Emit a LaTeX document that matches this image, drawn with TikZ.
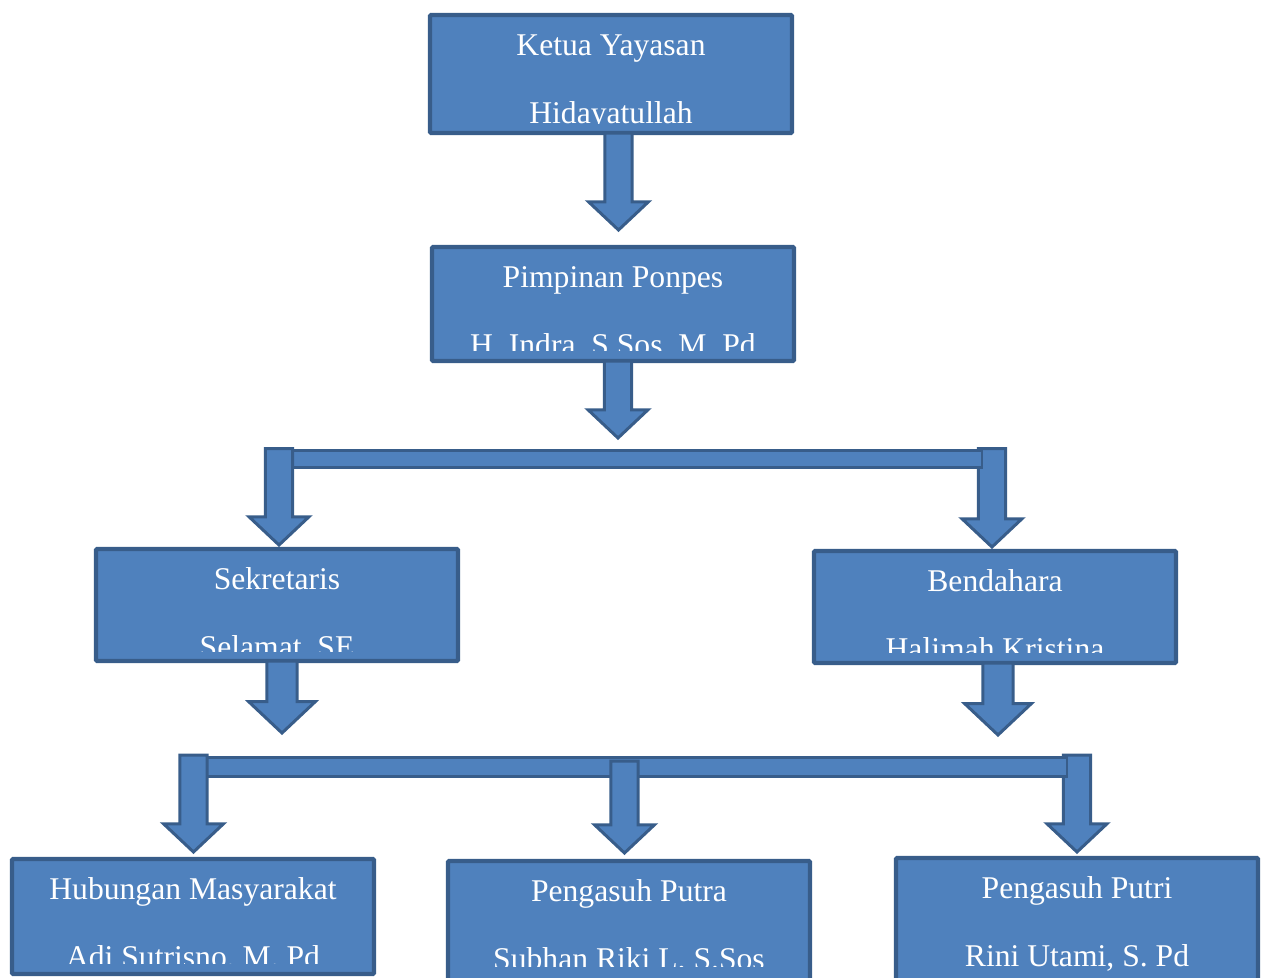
\documentclass[tikz,border=0pt]{standalone}
\usepackage{fontspec}
\setmainfont{Liberation Serif}
\usepackage{tikz}
\usetikzlibrary{calc}

\definecolor{boxfill}{HTML}{4F81BD}
\definecolor{boxline}{HTML}{385D8A}

% box with two lines of text, cut off at a given depth
\newcommand{\orgbox}[6]{%
  \node[orgbox, minimum height=#3] (#1) at #2 {};
  \begin{scope}
    \clip ($(#1.north west)+(0.05,-0.05)$) rectangle ($(#1.north east)+(-0.05,-#6)$);
    \node[boxtext] (#1-a) at ($(#1.north)+(0,-0.81)$) {#4};
    \node[boxtext] (#1-b) at ($(#1.north)+(0,-2.17)$) {#5};
  \end{scope}}

% block arrow pointing down, from #2 to the tip #3
\newcommand{\blockarr}[3][1]{%
  \draw[blockarrow] let \p1=#2, \p2=#3 in
    (\x1-#1*7.7pt,\y1) -- (\x1+#1*7.7pt,\y1) -- (\x1+#1*7.7pt,\y2+#1*16pt)
    -- (\x1+#1*17pt,\y2+#1*16pt) -- (\x1,\y2) -- (\x1-#1*17pt,\y2+#1*16pt)
    -- (\x1-#1*7.7pt,\y2+#1*16pt) -- cycle;}

\begin{document}
\begin{tikzpicture}[
  orgbox/.style={draw=boxline, fill=boxfill, line width=2.4pt, minimum width=7.24cm,
    outer sep=0pt, inner sep=0pt, rounded corners=0.6pt},
  boxtext/.style={text=white, font=\fontsize{18}{18}\selectfont, anchor=base, inner sep=0pt},
  blockarrow/.style={draw=boxline, fill=boxfill, line width=1.7pt, line join=miter}]
  \useasboundingbox (0,0) rectangle (25.3,-19.56);
  \clip (0,0) rectangle (25.3,-19.56);

  % Boxes
  \orgbox{ketua}{(12.22,-1.48)}{2.36cm}{Ketua Yayasan}{Hidayatullah}{2.16}
  \orgbox{pimpinan}{(12.26,-6.08)}{2.28cm}{Pimpinan Ponpes}{H. Indra, S.Sos, M. Pd}{2.06}
  \orgbox{sekretaris}{(5.54,-12.10)}{2.24cm}{Sekretaris}{Selamat, SE}{2.04}
  \orgbox{bendahara}{(19.90,-12.14)}{2.24cm}{Bendahara}{Halimah Kristina}{2.02}
  \orgbox{humas}{(3.86,-18.33)}{2.30cm}{Hubungan Masyarakat}{Adi Sutrisno, M. Pd}{2.08}
  \orgbox{putra}{(12.58,-18.47)}{2.50cm}{Pengasuh Putra}{Subhan Riki L, S.Sos}{2.11}
  \orgbox{putri}{(21.54,-18.41)}{2.50cm}{Pengasuh Putri}{Rini Utami, S. Pd}{2.40}

  % Tips and bar ends
  \coordinate (tipA) at (12.37,-4.60);
  \coordinate (tipB) at (12.36,-8.76);
  \coordinate (topL) at (5.58,-8.97);
  \coordinate (topR) at (19.84,-8.97);
  \coordinate (tipSek) at (5.58,-10.90);
  \coordinate (tipBen) at (19.84,-10.94);
  \coordinate (tipC) at (5.64,-14.66);
  \coordinate (tipD) at (19.96,-14.70);
  \coordinate (botL) at (3.87,-15.10);
  \coordinate (botM) at (12.49,-15.22);
  \coordinate (botR) at (21.54,-15.10);
  \coordinate (tipHum) at (3.87,-17.04);
  \coordinate (tipPa) at (12.49,-17.06);
  \coordinate (tipPi) at (21.54,-17.04);

  % Arrows
  \blockarr{(ketua.south -| tipA)}{(tipA)}
  \blockarr{(pimpinan.south -| tipB)}{(tipB)}

  \blockarr{(topR)}{(tipBen)}
  \draw[blockarrow] (5.8,-9.0) rectangle (19.64,-9.34);
  \blockarr{(topL)}{(tipSek)}

  \blockarr[1.12]{(sekretaris.south -| tipC)}{(tipC)}
  \blockarr[1.12]{(bendahara.south -| tipD)}{(tipD)}

  \blockarr{(botR)}{(tipPi)}
  \draw[blockarrow] (4.0,-15.14) rectangle (21.34,-15.52);
  \blockarr{(botL)}{(tipHum)}
  \blockarr{(botM)}{(tipPa)}
\end{tikzpicture}
\end{document}
